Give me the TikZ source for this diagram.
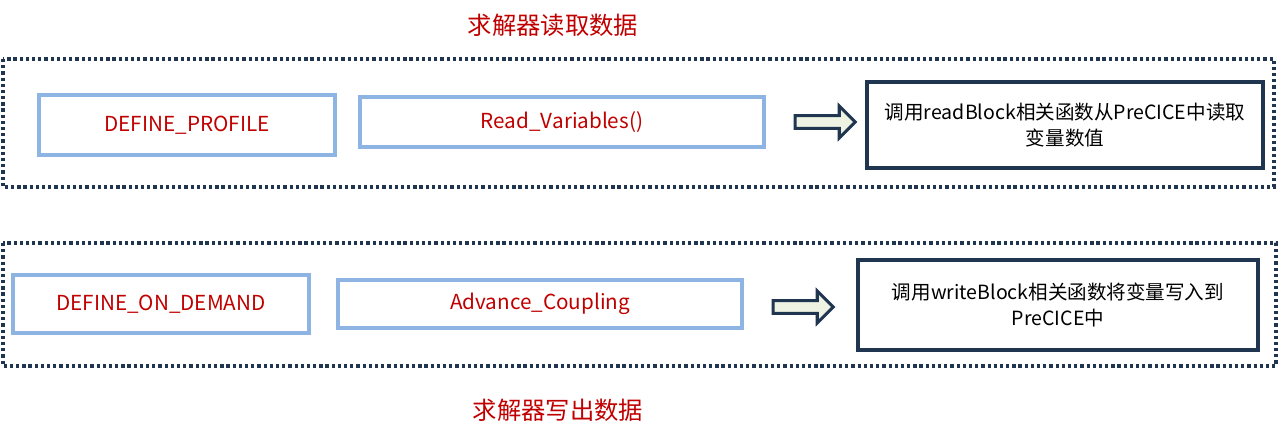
\documentclass[tikz,border=0pt]{standalone}
\usepackage{fontspec}
\setmainfont{Noto Sans CJK SC}
\usetikzlibrary{shapes.arrows,positioning}

\definecolor{fnred}{HTML}{C00000}
\definecolor{fnblue}{HTML}{8DB4E2}
\definecolor{navy}{HTML}{1F3550}
\definecolor{arrowfill}{HTML}{EEF2E2}

\begin{document}
\begin{tikzpicture}[
    x=0.025cm, y=-0.025cm,
    funcbox/.style={rectangle, draw=fnblue, line width=2.3pt, text=fnred, font=\fontsize{14.7}{17}\selectfont},
    descbox/.style={rectangle, draw=navy, line width=2.4pt, align=center, font=\fontsize{13.9}{18}\selectfont},
    frame/.style={draw=navy, line width=2.6pt, dash pattern=on 2.3pt off 2.1pt},
    title/.style={text=fnred, font=\fontsize{17.3}{20}\selectfont},
    fatarrow/.style={single arrow, draw=navy, fill=arrowfill, line width=2.2pt, minimum height=1.5cm, single arrow head extend=0.24cm, inner sep=0.12cm}
]
    \useasboundingbox (0,0) rectangle (1280,444);

    % Read
    \node[title] (title1) at (553,25) {求解器读取数据};
    \draw[frame] (3,59) rectangle (1274,187);
    \node[funcbox, minimum width=7.4cm, minimum height=1.5cm] (prof) at (187,125) {DEFINE\_PROFILE};
    \node[funcbox, minimum width=10.1cm, minimum height=1.25cm] (readv) at (562,122) {Read\_Variables()};
    \node[fatarrow] (arr1) at (822,122) {};
    \node[descbox, minimum width=9.9cm, minimum height=2.15cm] (readblk) at (1065,125) {调用readBlock相关函数从PreCICE中读取\\变量数值};

    % Write
    \draw[frame] (3,243) rectangle (1276,366);
    \node[funcbox, minimum width=7.4cm, minimum height=1.45cm] (demand) at (161,304) {DEFINE\_ON\_DEMAND};
    \node[funcbox, minimum width=10.1cm, minimum height=1.2cm] (adv) at (540,304) {Advance\_Coupling};
    \node[fatarrow] (arr2) at (800,307) {};
    \node[descbox, minimum width=10cm, minimum height=2.25cm] (writeblk) at (1058,305) {调用writeBlock相关函数将变量写入到\\PreCICE中};
    \node[title] (title2) at (558,410) {求解器写出数据};
\end{tikzpicture}
\end{document}
